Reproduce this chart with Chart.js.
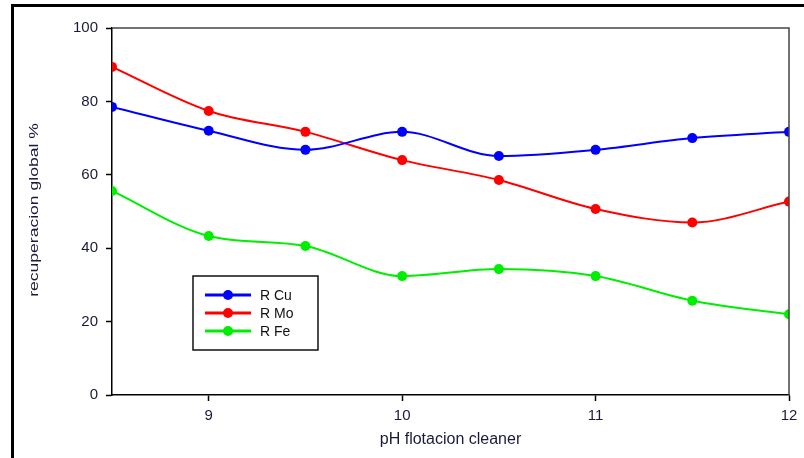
<!DOCTYPE html>
<html>
<head>
<meta charset="utf-8">
<script src="https://cdn.jsdelivr.net/npm/chart.js@4/dist/chart.umd.min.js"></script>
<style>
  html, body { margin: 0; padding: 0; background: #fff; }
  #wrap { width: 804px; height: 458px; position: relative; }
</style>
</head>
<body>
<div id="wrap"><canvas id="myChart"></canvas></div>
<script>
const ph = [8.5, 9, 9.5, 10, 10.5, 11, 11.5, 12]
const rCu = [78.5, 72, 66.8, 71.7, 65.1, 66.8, 70, 71.7]
const rMo = [89.4, 77.4, 71.7, 64, 58.6, 50.7, 47, 52.7]
const rFe = [55.6, 43.3, 40.6, 32.4, 34.3, 32.4, 25.7, 22]
const xTicks = [9, 10, 11, 12]
const yTicks = [0, 20, 40, 60, 80, 100]
const yTitle = 'recuperacion global %'

const ctx = document.getElementById('myChart')

const toPoints = arr => arr.map((v, i) => ({ x: ph[i], y: v }))

const mkSet = (label, color, arr) => ({
  label: label,
  data: toPoints(arr),
  borderColor: color,
  backgroundColor: color,
  borderWidth: 2,
  pointRadius: 5,
  pointBorderWidth: 0,
  tension: 0.4,
  cubicInterpolationMode: 'monotone'
})

// frame round the page, box round the plot, y title and the legend box
const decor = {
  id: 'decor',
  beforeDraw(chart) {
    const c = chart.ctx
    c.save()
    c.strokeStyle = '#000'
    c.lineWidth = 3
    c.strokeRect(12.5, 5.5, 820, 480)
    c.restore()
  },
  afterDraw(chart) {
    const c = chart.ctx
    const a = chart.chartArea
    c.save()
    c.strokeStyle = '#444'
    c.lineWidth = 1.5
    c.beginPath()
    c.moveTo(a.left, a.top)
    c.lineTo(a.right, a.top)
    c.lineTo(a.right, a.bottom)
    c.stroke()

    // y title, stretched along its length like the original
    c.save()
    c.translate(34, 210)
    c.rotate(-Math.PI / 2)
    c.scale(1.35, 1)
    c.font = '13px "Liberation Sans", Arial, sans-serif'
    c.fillStyle = '#1a1a3a'
    c.textAlign = 'center'
    c.textBaseline = 'middle'
    c.fillText(yTitle, 0, 0)
    c.restore()

    // legend
    c.strokeStyle = '#111'
    c.lineWidth = 1.5
    c.fillStyle = '#fff'
    c.fillRect(193, 276, 125, 74)
    c.strokeRect(193, 276, 125, 74)
    c.font = '14px "Liberation Sans", Arial, sans-serif'
    c.textBaseline = 'middle'
    chart.data.datasets.forEach((ds, i) => {
      const y = 295 + i * 18
      c.strokeStyle = ds.borderColor
      c.lineWidth = 3
      c.beginPath()
      c.moveTo(205, y)
      c.lineTo(251, y)
      c.stroke()
      c.fillStyle = ds.borderColor
      c.beginPath()
      c.arc(228, y, 5, 0, Math.PI * 2)
      c.fill()
      c.fillStyle = '#111'
      c.fillText(ds.label, 260, y + 1)
    })
    c.restore()
  }
}

new Chart(ctx, {
  type: 'line',
  data: {
    datasets: [
      mkSet('R Cu', '#0000ff', rCu),
      mkSet('R Mo', '#ff0000', rMo),
      mkSet('R Fe', '#00ee00', rFe)
    ]
  },
  plugins: [decor],
  options: {
    responsive: true,
    maintainAspectRatio: false,
    animation: false,
    layout: { padding: { left: 0, top: 28, right: 15, bottom: 0 } },
    plugins: {
      legend: { display: false },
      tooltip: { enabled: false }
    },
    scales: {
      x: {
        type: 'linear',
        min: 8.5,
        max: 12,
        afterBuildTicks: axis => { axis.ticks = xTicks.map(v => ({ value: v })) },
        afterFit: axis => { axis.height = 63 },
        border: { color: '#000', width: 1.5 },
        grid: { drawOnChartArea: false, tickLength: 6, color: '#000', tickWidth: 1.5 },
        ticks: { color: '#1a1a3a', padding: 6, font: { size: 15, family: 'Liberation Sans' }, maxRotation: 0 },
        title: {
          display: true,
          text: 'pH flotacion cleaner',
          color: '#1a1a3a',
          font: { size: 16, family: 'Liberation Sans' },
          padding: { top: 0, bottom: 9 }
        }
      },
      y: {
        min: 0,
        max: 100,
        afterBuildTicks: axis => { axis.ticks = yTicks.map(v => ({ value: v })) },
        afterFit: axis => { axis.width = 112 },
        border: { color: '#000', width: 1.5 },
        grid: { drawOnChartArea: false, tickLength: 6, color: '#000', tickWidth: 1.5 },
        ticks: { color: '#1a1a3a', padding: 8, font: { size: 15, family: 'Liberation Sans' } }
      }
    }
  }
})
</script>
</body>
</html>
